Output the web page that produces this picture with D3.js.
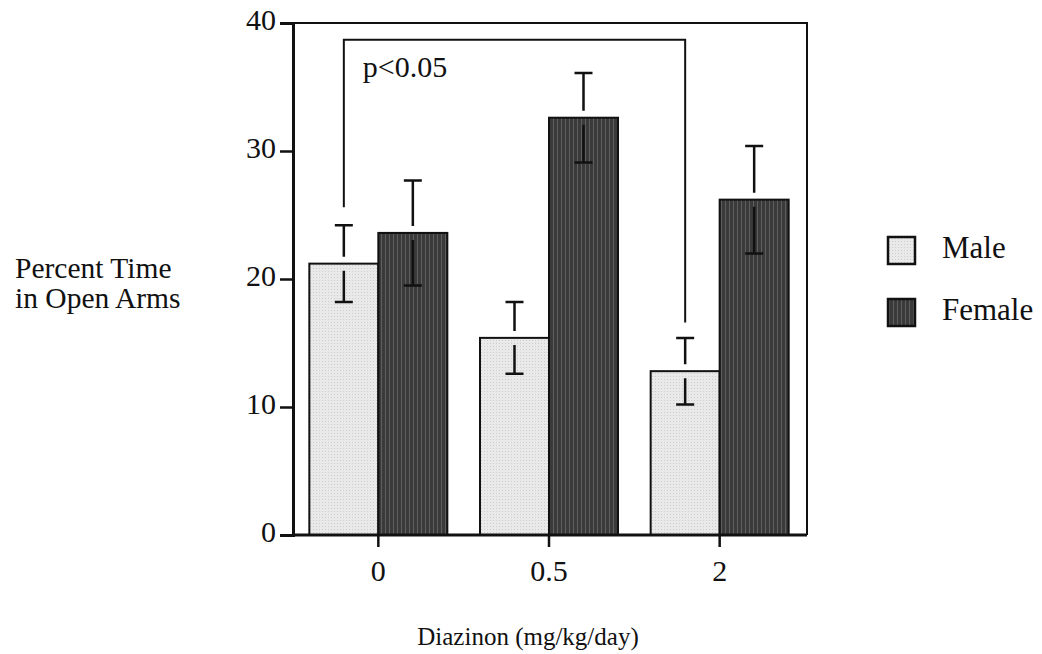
<!DOCTYPE html>
<html>
<head>
<meta charset="utf-8">
<script src="https://cdn.jsdelivr.net/npm/d3@7"></script>
<style>
  body { margin: 0; background: #fff; }
  svg text { font-family: "Liberation Serif", "DejaVu Serif", serif; fill: #111; }
</style>
</head>
<body>
<div id="chart"></div>
<script>
// Percent time in open arms by diazinon dose and sex

const doses = ["0", "0.5", "2"];
const sexes = ["Male", "Female"];
const maleMeans = [21.2, 15.4, 12.8];
const maleErr = [3.0, 2.8, 2.6];
const femaleMeans = [23.6, 32.6, 26.2];
const femaleErr = [4.1, 3.5, 4.2];
const yTicks = [0, 10, 20, 30, 40];

// significance bracket: from Male at dose 0 to Male at dose 2
const bracket = { from: "0", to: "2", top: 38.7, leftEnd: 25.6, rightEnd: 16.6, label: "p<0.05" };

const width = 1042, height = 654;

const svg = d3.select("#chart").append("svg")
    .attr("width", width)
    .attr("height", height);

const defs = svg.append("defs");

// light dotted fill for males
const pm = defs.append("pattern")
    .attr("id", "pat-male")
    .attr("width", 3).attr("height", 3)
    .attr("patternUnits", "userSpaceOnUse");
pm.append("rect").attr("width", 3).attr("height", 3).attr("fill", "#e9e9e9");
pm.append("rect").attr("x", 1).attr("y", 1).attr("width", 1).attr("height", 1).attr("fill", "#cdcdcd");

// dark vertical stripes for females
const pf = defs.append("pattern")
    .attr("id", "pat-female")
    .attr("width", 4).attr("height", 4)
    .attr("patternUnits", "userSpaceOnUse");
pf.append("rect").attr("width", 4).attr("height", 4).attr("fill", "#3a3a3a");
pf.append("rect").attr("x", 1).attr("width", 1).attr("height", 4).attr("fill", "#5e5e5e");

const fills = { Male: "url(#pat-male)", Female: "url(#pat-female)" };

const x = d3.scaleBand().domain(doses).range([293, 805]).padding(0);
const xs = d3.scaleBand().domain(sexes).range([0, 138]);
const y = d3.scaleLinear().domain([0, 40]).range([535, 23]);

const groupLeft = d => x(d) + x.bandwidth() / 2 - 69;
const center = (dose, sex) => groupLeft(dose) + xs(sex) + xs.bandwidth() / 2;

const data = [];
doses.forEach((d, i) => {
    data.push({ dose: d, sex: "Male", v: maleMeans[i], e: maleErr[i] });
    data.push({ dose: d, sex: "Female", v: femaleMeans[i], e: femaleErr[i] });
});

// frame (top and right)
const [x0, x1] = x.range();
svg.append("path")
    .attr("d", `M${x0},${y(40)} H${x1 + 2} V${y(0)}`)
    .attr("fill", "none")
    .attr("stroke", "#111")
    .attr("stroke-width", 2);

// bars
svg.selectAll(".bar")
    .data(data)
    .enter()
    .append("rect")
    .attr("class", "bar")
    .attr("x", d => groupLeft(d.dose) + xs(d.sex))
    .attr("y", d => y(d.v))
    .attr("width", xs.bandwidth())
    .attr("height", d => y(0) - y(d.v))
    .attr("fill", d => fills[d.sex])
    .attr("stroke", "#111")
    .attr("stroke-width", 2);

// error bars, with a small gap at the bar top
const gap = 7, capW = 18;
const eb = svg.selectAll(".err")
    .data(data)
    .enter()
    .append("g")
    .attr("class", "err")
    .attr("stroke", "#111")
    .attr("stroke-width", 2.5);

eb.append("path")
    .attr("fill", "none")
    .attr("d", d => {
        const cx = center(d.dose, d.sex);
        return `M${cx - capW / 2},${y(d.v + d.e)} H${cx + capW / 2}` +
               ` M${cx},${y(d.v + d.e)} V${y(d.v) - gap}` +
               ` M${cx},${y(d.v) + gap} V${y(d.v - d.e)}` +
               ` M${cx - capW / 2},${y(d.v - d.e)} H${cx + capW / 2}`;
    });

// significance bracket
const bl = center(bracket.from, "Male"), br = center(bracket.to, "Male");
svg.append("path")
    .attr("d", `M${bl},${y(bracket.leftEnd)} V${y(bracket.top)} H${br} V${y(bracket.rightEnd)}`)
    .attr("fill", "none")
    .attr("stroke", "#111")
    .attr("stroke-width", 2);

svg.append("text")
    .attr("x", bl + 19)
    .attr("y", y(bracket.top) + 37)
    .style("font-size", "30px")
    .text(bracket.label);

// y axis
const yAxis = svg.append("g")
    .attr("transform", `translate(${x0},0)`)
    .call(d3.axisLeft(y).tickValues(yTicks).tickSize(13).tickPadding(4));
yAxis.select(".domain").attr("stroke", "#111").attr("stroke-width", 3);
yAxis.selectAll(".tick line").attr("stroke", "#111").attr("stroke-width", 2.5);
yAxis.selectAll(".tick text")
    .style("font-size", "30px")
    .attr("font-family", null)
    .attr("dy", "0.22em");

// x axis
const xAxis = svg.append("g")
    .attr("transform", `translate(0,${y(0)})`)
    .call(d3.axisBottom(x).tickSizeInner(12).tickSizeOuter(0).tickPadding(13));
xAxis.select(".domain").attr("stroke", "#111").attr("stroke-width", 3)
    .attr("d", `M${x0},0 H${x1 + 2}`);
xAxis.selectAll(".tick line").attr("stroke", "#111").attr("stroke-width", 2.5);
xAxis.selectAll(".tick text")
    .style("font-size", "30px")
    .attr("font-family", null)
    .attr("dy", "0.71em");

// axis titles
svg.append("text")
    .attr("x", 528)
    .attr("y", 645)
    .attr("text-anchor", "middle")
    .style("font-size", "25px")
    .text("Diazinon (mg/kg/day)");

const yt = svg.append("text")
    .attr("x", 15)
    .attr("y", 278)
    .style("font-size", "29.5px");
yt.append("tspan").attr("x", 15).text("Percent Time");
yt.append("tspan").attr("x", 15).attr("dy", 30).text("in Open Arms");

// legend
const legend = svg.selectAll(".legend")
    .data(sexes)
    .enter()
    .append("g")
    .attr("class", "legend")
    .attr("transform", (d, i) => `translate(888,${237 + i * 62})`);

legend.append("rect")
    .attr("width", 27)
    .attr("height", 27)
    .attr("fill", d => fills[d])
    .attr("stroke", "#111")
    .attr("stroke-width", 2.5);

legend.append("text")
    .attr("x", 54)
    .attr("y", 21)
    .style("font-size", "31px")
    .text(d => d);
</script>
</body>
</html>
